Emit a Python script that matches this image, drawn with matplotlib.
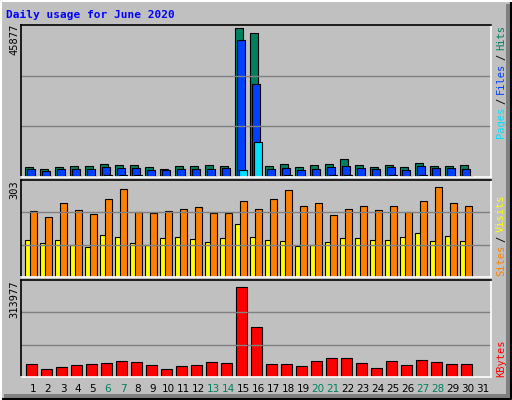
import matplotlib
matplotlib.use("Agg")
import matplotlib.pyplot as plt
from matplotlib.patches import Rectangle
import numpy as np

W, H = 512, 400
days = list(range(1, 32))
weekend = [6, 7, 13, 14, 20, 21, 27, 28]

# values (day 31 has no data)
hits = [3016, 2600, 3016, 3328, 3328, 3952, 3640, 3640, 3016, 2600, 3328, 3328, 3640, 3328,
        45877, 44400, 3328, 3952, 3016, 3640, 3952, 5512, 3640, 3016, 3640, 3016, 4264, 3328, 3328, 3640]
files = [2392, 1768, 2392, 2392, 2392, 3016, 2704, 2704, 2080, 2080, 2392, 2392, 2392, 2704,
         42328, 28600, 2392, 2704, 2080, 2392, 3016, 3328, 2704, 2392, 3016, 2080, 3328, 2704, 2704, 2392]
pages = [450, 420, 450, 450, 450, 480, 470, 470, 430, 420, 450, 450, 460, 450,
         2080, 10712, 450, 470, 430, 450, 480, 500, 460, 440, 470, 440, 480, 460, 460, 450]
visits = [126, 116, 126, 109, 102, 142, 135, 116, 109, 132, 135, 128, 119, 132, 178,
          135, 126, 122, 106, 109, 119, 132, 132, 126, 126, 135, 149, 122, 139, 122]
sites = [221, 204, 251, 225, 211, 264, 297, 218, 215, 221, 228, 235, 215, 215, 258,
         228, 264, 294, 238, 248, 208, 228, 241, 225, 238, 218, 258, 303, 251, 241]
kbytes = [46781, 29666, 36512, 43358, 46781, 50204, 57050, 53627, 43358, 29666, 39935, 43358,
          53627, 50204, 313977, 173432, 46781, 46781, 39935, 57050, 67319, 67319, 50204, 33089,
          57050, 43358, 60473, 53627, 46781, 46781]

BG = "#C0C0C0"
HITS_C, FILES_C, PAGES_C = "#00805F", "#0040FF", "#00E0FF"
VIS_C, SITE_C, KB_C = "#FFFF00", "#FF8000", "#FF0000"

fig = plt.figure(figsize=(W / 100, H / 100), dpi=100, facecolor=BG)

# frame
bg = fig.add_axes([0, 0, 1, 1])
bg.set_xlim(0, W); bg.set_ylim(H, 0); bg.axis("off")
bg.add_patch(Rectangle((0, 0), W, H, fc=BG, ec="none"))
bg.plot([1, W - 1, W - 1], [H - 1, H - 1, 1], color="black", lw=1.5)
bg.plot([1, 1, W - 1], [H - 1, 1, 1], color="white", lw=1.5)
bg.add_patch(Rectangle((W - 6, 4), 5, H - 6, fc="#808080", ec="none"))
bg.add_patch(Rectangle((4, H - 6), W - 6, 5, fc="#808080", ec="none"))
bg.text(6, 15, "Daily usage for June 2020", color="#0000FF", fontsize=8,
        family="DejaVu Sans Mono", fontweight="bold", va="center")

def panel(top, bottom):
    left, right = 21, 491
    ax = fig.add_axes([left / W, 1 - bottom / H, (right - left) / W, (bottom - top) / H])
    ax.set_facecolor(BG)
    ax.set_xlim(1 - 10.3 / 15, 1 - 10.3 / 15 + (right - left) / 15)
    ax.set_xticks([]); ax.set_yticks([])
    for s in ("left", "top"):
        ax.spines[s].set_color("black")
    for s in ("right", "bottom"):
        ax.spines[s].set_color("white")
    for s in ax.spines.values():
        s.set_linewidth(1.2)
    return ax

x = np.arange(1, 31)
bw = 8 / 15

# hits/files/pages
ax1 = panel(25, 177)
ym = 45877 * 150 / 147
ax1.set_ylim(0, ym)
for f in (1 / 3, 2 / 3):
    ax1.axhline(ym * f, color="#808080", lw=1)
ax1.bar(x - 0.133, hits, bw, color=HITS_C, ec="black", lw=0.8)
ax1.bar(x + 0.01, files, bw, color=FILES_C, ec="black", lw=0.8)
ax1.bar(x + 0.133, pages, bw, color=PAGES_C, ec="black", lw=0.8)

# visits/sites
ax2 = panel(180, 277)
ym2 = 303 / 0.926
ax2.set_ylim(0, ym2)
for f in (1 / 3, 2 / 3):
    ax2.axhline(ym2 * f, color="#808080", lw=1)
ax2.bar(x - 0.133, visits, bw, color=VIS_C, ec="black", lw=0.8)
ax2.bar(x + 0.133, sites, 7.4 / 15, color=SITE_C, ec="black", lw=0.8)

# kbytes
ax3 = panel(280, 377)
ym3 = 313977 / 0.926
ax3.set_ylim(0, ym3)
for f in (1 / 3, 2 / 3):
    ax3.axhline(ym3 * f, color="#808080", lw=1)
ax3.bar(x + 0.02, kbytes, 10.7 / 15, color=KB_C, ec="black", lw=0.8)

mono = dict(family="DejaVu Sans Mono", fontsize=7.5, rotation=90)
for lab, ytop in (("45877", 24), ("303", 180), ("313977", 281)):
    bg.text(14, ytop, lab, ha="center", va="top", color="black", **mono)

def side(segs, ybottom):
    y = ybottom
    for txt, col in segs:
        t = bg.text(501, y, txt, ha="center", va="bottom", color=col, **mono)
        y -= len(txt) * 6.0 + 4

side([("Pages", PAGES_C), ("/", "black"), ("Files", FILES_C), ("/", "black"), ("Hits", HITS_C)], 138)
side([("Sites", SITE_C), ("/", "black"), ("Visits", VIS_C)], 276)
side([("KBytes", KB_C)], 377)

for d in days:
    px = 33 + 15 * (d - 1)
    bg.text(px, 389, str(d), ha="center", va="center", fontsize=7.5,
            color=HITS_C if d in weekend else "black")

fig.savefig("out.png", dpi=100, facecolor=BG)
